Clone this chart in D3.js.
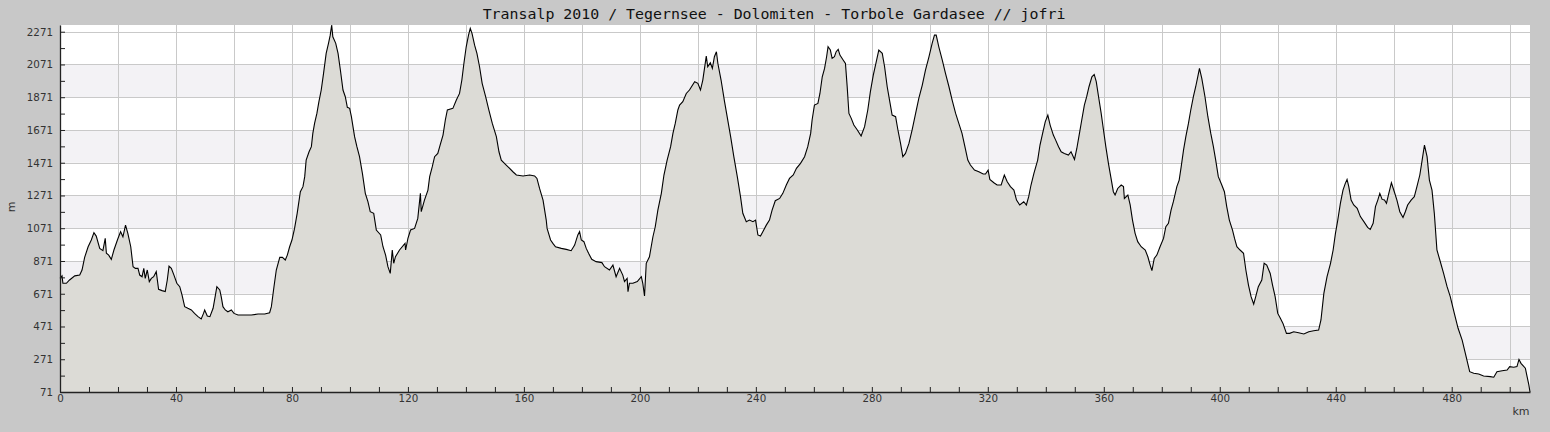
<!DOCTYPE html>
<html>
<head>
<meta charset="utf-8">
<script src="https://cdn.jsdelivr.net/npm/d3@7/dist/d3.min.js"></script>
<style>
  html, body { margin: 0; padding: 0; background: #c8c8c8; }
  svg { display: block; }
</style>
</head>
<body>
<svg id="chart" width="1550" height="432"></svg>
<script>
const chartTitle = "Transalp 2010 / Tegernsee - Dolomiten - Torbole Gardasee // jofri";
const xAxisLabel = "km";
const yAxisLabel = "m";

const yTickValues = [71, 271, 471, 671, 871, 1071, 1271, 1471, 1671, 1871, 2071, 2271];
const yMinorTickValues = [171, 371, 571, 771, 971, 1171, 1371, 1571, 1771, 1971, 2171];
const xLabelValues = [0, 40, 80, 120, 160, 200, 240, 280, 320, 360, 400, 440, 480];
const xGridValues = [0, 20, 40, 60, 80, 100, 120, 140, 160, 180, 200, 220, 240, 260, 280, 300, 320, 340, 360, 380, 400, 420, 440, 460, 480, 500];
const xTickValues = [0, 10, 20, 30, 40, 50, 60, 70, 80, 90, 100, 110, 120, 130, 140, 150, 160, 170, 180, 190, 200, 210, 220, 230, 240, 250, 260, 270, 280, 290, 300, 310, 320, 330, 340, 350, 360, 370, 380, 390, 400, 410, 420, 430, 440, 450, 460, 470, 480, 490, 500];
const xDomain = [0, 507];
const yDomain = [71, 2312];

const distanceKm = [
  0,0.7,1.0,2.2,3.3,5.1,6.8,7.6,8.5,9.7,
  10.8,11.7,12.5,13.7,14.8,15.6,16.0,16.8,17.7,18.6,
  19.8,20.9,21.7,22.6,23.4,24.4,25.2,26.0,26.9,27.5,
  28.3,28.9,29.4,30.1,30.8,31.5,32.3,33.2,34.0,35.2,
  36.3,37.0,37.6,38.4,39.3,40.3,41.3,42.1,43.0,44.1,
  45.3,46.4,47.6,48.7,49.5,49.9,50.8,51.7,52.8,53.6,
  54.1,55.1,55.6,56.2,57.0,57.9,59.1,60.0,61.4,63.7,
  66.0,68.3,70.6,72.3,72.9,73.8,74.6,75.8,76.7,77.7,
  78.4,79.2,80.0,80.9,81.8,82.9,
  83.8,84.4,84.9,85.9,86.7,87.2,87.8,88.6,89.3,90.1,
  90.9,91.8,92.6,93.2,93.7,94.1,95.1,95.9,96.7,97.6,
  98.4,99.1,99.9,100.5,101.6,102.4,103.3,104.3,105.3,106.2,
  107.0,108.2,109.1,110.6,111.4,112.3,113.1,113.9,114.6,115.1,
  115.7,117.1,119.0,119.2,120.0,120.9,122.3,123.4,124.3,124.6,
  125.7,126.9,127.5,128.4,129.2,130.3,131.1,132.1,132.9,133.6,
  135.5,136.7,137.8,138.6,139.3,140.1,140.9,141.5,142.1,143.0,
  143.8,144.7,145.6,146.8,147.9,149.1,150.5,151.4,152.2,153.9,
  156.2,157.4,159.7,162.0,163.7,164.5,165.4,166.6,167.7,
  168.0,169.2,170.0,170.9,172.9,174.6,176.3,177.5,178.6,179.2,
  179.8,180.7,181.5,182.3,183.4,184.9,186.9,187.8,189.5,190.7,
  191.8,193.0,194.1,194.7,195.6,195.9,196.4,197.6,199.1,200.5,
  201.0,201.6,202.2,203.3,204.5,205.3,206.2,207.4,208.3,209.4,
  210.6,211.4,212.2,213.1,213.7,214.8,216.0,217.1,218.9,220.0,
  220.9,221.7,222.9,223.4,224.3,225.0,225.7,226.4,226.9,228.0,
  229.2,230.1,231.3,232.4,233.6,234.7,235.5,236.7,237.8,239.0,
  239.9,240.7,241.6,242.4,243.6,244.7,245.6,246.7,248.2,249.3,
  250.5,251.6,
  252.9,254.0,255.4,256.8,257.9,258.9,259.4,260.2,261.4,262.1,
  262.9,263.7,264.4,264.9,265.7,266.3,267.1,267.7,268.4,269.0,
  270.1,270.9,271.5,272.1,272.9,273.8,275.0,276.3,277.5,278.6,
  279.5,280.5,281.4,282.4,283.6,284.4,285.3,286.3,287.0,288.2,
  289.0,289.9,290.7,291.6,292.8,293.9,295.1,296.2,297.4,298.5,
  299.7,300.8,301.6,302.2,303.1,304.3,305.4,306.6,307.7,308.9,
  310.0,311.1,312.1,313.1,314.0,315.4,316.9,318.4,319.2,320.1,
  320.7,322.1,323.2,324.6,325.7,326.7,327.8,329.0,329.9,331.0,
  332.4,333.3,334.1,334.9,335.9,
  337.2,338.0,338.9,339.8,340.7,341.5,342.6,343.4,344.4,345.3,
  346.4,347.8,348.7,349.9,350.7,351.5,352.4,353.3,354.1,354.9,
  355.9,356.7,357.4,358.2,359.1,359.9,360.7,361.6,362.4,363.3,
  363.9,364.8,366.0,366.8,367.1,368.3,369.1,369.9,370.8,371.7,
  372.9,374.3,375.2,376.0,376.6,377.4,378.3,379.4,380.6,381.4,
  382.3,383.2,384.0,385.2,386.0,386.7,387.5,388.3,389.2,390.0,
  390.9,391.7,392.3,393.0,393.8,394.9,395.9,396.9,397.8,398.6,
  399.5,400.7,401.6,402.4,403.3,404.4,405.1,405.9,407.0,408.2,
  409.0,409.9,410.8,411.7,412.4,413.3,414.5,415.3,416.2,417.4,
  418.2,419.1,420.0,
  420.9,421.8,423.0,424.1,425.5,427.2,429.0,430.7,432.4,434.1,
  434.9,435.9,437.0,438.2,439.1,439.9,440.7,441.6,442.5,443.3,
  443.9,444.5,445.3,446.2,447.4,448.5,449.7,451.0,451.9,452.9,
  453.7,454.5,455.2,456.0,456.8,457.5,458.3,459.2,460.2,461.1,
  462.1,463.2,464.0,464.8,466.0,467.1,468.0,469.0,469.8,470.6,
  471.5,472.3,473.2,474.0,474.9,475.9,477.2,478.4,479.5,480.9,
  482.2,483.6,484.7,486.2,487.6,489.3,491.0,493.3,494.5,495.6,
  497.4,499.1,500.0,501.4,502.5,503.2,503.9,505.4,506.0,506.6,
  507.0
];

const elevationM = [
  765,780,735,735,755,780,785,816,893,958,
  999,1044,1023,948,934,1009,918,907,881,938,
  999,1050,1019,1090,1040,958,836,826,826,785,
  775,826,765,816,745,765,775,806,698,690,
  684,755,840,826,785,735,714,663,592,582,
  572,551,531,517,551,572,535,531,582,663,
  714,694,653,592,572,561,572,551,541,541,
  541,547,547,555,592,714,816,893,893,877,
  907,958,999,1070,1162,1294,
  1325,1386,1487,1538,1569,1650,1711,1772,1844,1915,
  2017,2139,2200,2250,2312,2240,2200,2139,2037,1915,
  1874,1809,1803,1752,1630,1569,1508,1406,1284,1233,
  1172,1162,1060,1030,958,907,836,795,938,857,
  897,938,979,938,1009,1060,1070,1131,1284,1172,
  1243,1304,1386,1447,1508,1528,1579,1640,1732,1793,
  1803,1854,1894,1976,2077,2179,2250,2291,2261,2189,
  2139,2057,1956,1874,1793,1711,1630,1538,1487,1457,
  1416,1396,1390,1396,1390,1375,1314,1243,1121,
  1070,999,979,958,948,942,934,968,1030,1050,
  999,989,948,918,881,867,861,836,816,846,
  775,826,785,745,765,684,735,735,745,775,
  735,657,857,897,1019,1080,1182,1284,1396,1487,
  1569,1650,1711,1793,1823,1844,1894,1915,1966,1956,
  1915,1976,2122,2057,2081,2047,2118,2149,2077,1976,
  1844,1752,1630,1508,1386,1264,1162,1111,1121,1111,
  1121,1030,1023,1050,1090,1121,1182,1239,1253,1284,
  1335,1375,
  1396,1437,1467,1508,1569,1650,1732,1823,1833,1894,
  1996,2047,2118,2179,2159,2108,2118,2149,2163,2128,
  2098,2077,1935,1772,1742,1701,1671,1634,1691,1793,
  1905,2006,2077,2159,2139,2057,1935,1833,1762,1752,
  1671,1589,1508,1528,1589,1671,1772,1864,1945,2037,
  2118,2200,2250,2250,2179,2098,2017,1935,1854,1772,
  1711,1650,1569,1487,1457,1426,1416,1402,1402,1426,
  1369,1349,1335,1335,1396,1355,1325,1304,1243,1213,
  1233,1213,1264,1335,1406,
  1487,1579,1650,1721,1762,1701,1640,1609,1569,1538,
  1528,1518,1538,1491,1558,1640,1732,1823,1874,1935,
  1996,2010,1966,1874,1772,1671,1569,1467,1386,1294,
  1274,1314,1335,1325,1253,1274,1213,1121,1040,989,
  958,938,897,846,812,887,907,958,1009,1080,
  1101,1182,1233,1325,1365,1447,1548,1630,1711,1793,
  1874,1935,1986,2047,1986,1874,1752,1650,1569,1487,
  1386,1335,1294,1203,1121,1060,1009,958,938,918,
  816,724,653,608,653,714,755,857,846,795,
  724,653,551,
  521,490,429,429,439,433,425,439,445,449,
  511,673,775,857,938,1040,1121,1223,1304,1345,
  1369,1325,1243,1213,1192,1142,1111,1076,1064,1101,
  1203,1243,1284,1247,1243,1223,1284,1349,1294,1243,
  1172,1137,1172,1213,1243,1264,1325,1396,1487,1579,
  1508,1365,1304,1162,938,877,795,714,653,551,
  460,388,307,195,185,181,169,165,161,195,
  201,205,226,222,226,270,246,216,165,114,
  71
];

const margin = { left: 60, right: 20, top: 25, bottom: 40 };
const W = 1550, H = 432;
const svg = d3.select("#chart");

const x = d3.scaleLinear().domain(xDomain).range([margin.left, W - margin.right]);
const y = d3.scaleLinear().domain(yDomain).range([H - margin.bottom, margin.top]);

const profile = distanceKm.map((d, i) => ({ km: d, m: elevationM[i] }));

// plot background
svg.append("rect")
  .attr("x", x(xDomain[0])).attr("y", y(yDomain[1]))
  .attr("width", x(xDomain[1]) - x(xDomain[0]))
  .attr("height", y(yDomain[0]) - y(yDomain[1]))
  .attr("fill", "#ffffff");

// alternating bands
const bandStarts = yTickValues.filter((v, i) => i % 2 === 1 && i + 1 < yTickValues.length);
svg.append("g").selectAll("rect").data(bandStarts).join("rect")
  .attr("x", x(xDomain[0]))
  .attr("width", x(xDomain[1]) - x(xDomain[0]))
  .attr("y", d => y(d + 200))
  .attr("height", d => y(d) - y(d + 200))
  .attr("fill", "#f3f2f5");

// grid
const grid = svg.append("g").attr("stroke", "#c9c9c9").attr("stroke-width", 1).attr("shape-rendering", "crispEdges");
grid.selectAll("line.h").data(yTickValues).join("line")
  .attr("x1", x(xDomain[0])).attr("x2", x(xDomain[1]))
  .attr("y1", d => Math.round(y(d)) + 0.5).attr("y2", d => Math.round(y(d)) + 0.5);
grid.selectAll("line.v").data(xGridValues).join("line")
  .attr("y1", y(yDomain[0])).attr("y2", y(yDomain[1]))
  .attr("x1", d => Math.round(x(d)) + 0.5).attr("x2", d => Math.round(x(d)) + 0.5);

// area
const area = d3.area().x(d => x(d.km)).y0(y(yDomain[0])).y1(d => y(d.m));
svg.append("path").datum(profile).attr("d", area).attr("fill", "#dcdbd6");
const line = d3.line().x(d => x(d.km)).y(d => y(d.m));
svg.append("path").datum(profile).attr("d", line)
  .attr("fill", "none").attr("stroke", "#000").attr("stroke-width", 1.1).attr("stroke-linejoin", "miter");

// axes
const fontAxis = "'DejaVu Sans', sans-serif";
const yAxis = d3.axisLeft(y).tickValues(yTickValues).tickSize(-5).tickSizeOuter(0).tickPadding(7).tickFormat(d3.format("d"));
const gy = svg.append("g").attr("transform", `translate(${x(xDomain[0])},0)`).call(yAxis);
const yMinor = d3.axisLeft(y).tickValues(yMinorTickValues).tickSize(-5).tickSizeOuter(0).tickFormat("");
const gym = svg.append("g").attr("transform", `translate(${x(xDomain[0])},0)`).call(yMinor);
gym.select(".domain").remove();

const xAxis = d3.axisBottom(x).tickValues(xTickValues).tickSize(-5).tickSizeOuter(0).tickPadding(3)
  .tickFormat(d => xLabelValues.includes(d) ? d : "");
const gx = svg.append("g").attr("transform", `translate(0,${y(yDomain[0])})`).call(xAxis);

[gy, gym, gx].forEach(g => {
  g.selectAll(".domain").attr("stroke", "#222").attr("stroke-width", 1.3);
  g.selectAll(".tick line").attr("stroke", "#222").attr("stroke-width", 1);
  g.selectAll("text").attr("fill", "#333").style("font-family", fontAxis).style("font-size", "10.3px");
});

// axis titles
svg.append("text").text(xAxisLabel)
  .attr("x", 1521).attr("y", 415).attr("text-anchor", "middle")
  .attr("fill", "#333").style("font-family", fontAxis).style("font-size", "11px");
svg.append("text").text(yAxisLabel)
  .attr("transform", "translate(15,207) rotate(-90)").attr("text-anchor", "middle")
  .attr("fill", "#333").style("font-family", fontAxis).style("font-size", "11px");

// title
svg.append("text").text(chartTitle)
  .attr("x", 774).attr("y", 19).attr("text-anchor", "middle")
  .attr("fill", "#111").style("font-family", "'DejaVu Sans Mono', monospace").style("font-size", "14.9px");
</script>
</body>
</html>
